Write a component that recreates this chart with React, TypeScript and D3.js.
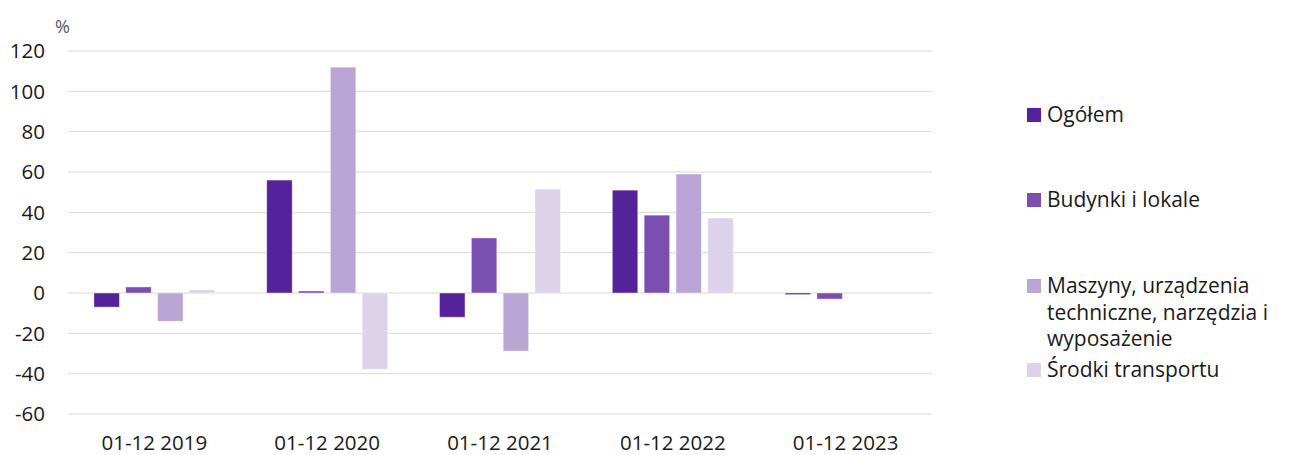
import React from "react";
import * as d3 from "d3";

const categories = ["01-12 2019", "01-12 2020", "01-12 2021", "01-12 2022", "01-12 2023"];
const seriesNames = ["Ogółem", "Budynki i lokale", "Maszyny, urządzenia techniczne, narzędzia i wyposażenie", "Środki transportu"];
const ogolem: (number | null)[] = [-7, 56, -12, 51, -0.8];
const budynki: (number | null)[] = [3, 1, 27.3, 38.6, -3];
const maszyny: (number | null)[] = [-14, 112, -28.8, 59, null];
const srodki: (number | null)[] = [1.5, -37.8, 51.5, 37.2, null];
const yTicks = [-60, -40, -20, 0, 20, 40, 60, 80, 100, 120];
const colors = ["#54229a", "#7a4fb0", "#b9a6d5", "#dcd3ea"];
const legendLines = [["Ogółem"], ["Budynki i lokale"], ["Maszyny, urządzenia", "techniczne, narzędzia i", "wyposażenie"], ["Środki transportu"]];

const W = 1295, H = 455;
const FONT = "'Open Sans', sans-serif";

export default function App() {
  const series = [ogolem, budynki, maszyny, srodki];
  const x = d3.scaleBand<string>().domain(categories).range([68, 932]).paddingInner(0.3).paddingOuter(0.15);
  const x1 = d3.scaleBand<number>().domain([0, 1, 2, 3]).range([0, x.bandwidth()]).paddingInner(0.2);
  const y = d3.scaleLinear().domain([-60, 120]).range([414, 51]);
  const legendY = [115, 200, 286, 370];
  return (
    <svg width={W} height={H} style={{ position: "absolute", left: 0, top: 0, background: "#fff" }} fontFamily={FONT}>
      {yTicks.map((t) => (
        <g key={t}>
          <line x1={68} x2={932} y1={y(t)} y2={y(t)} stroke="#d9d9d9" strokeWidth={1} />
          <text x={45} y={y(t)} dy="0.35em" textAnchor="end" fontSize={20.5} fill="#1a1a1a">{t}</text>
        </g>
      ))}
      <text x={55} y={33} fontSize={18} fill="#595959">%</text>
      {categories.map((c, i) => (
        <g key={c}>
          {series.map((s, j) => {
            const v = s[i];
            if (v === null) return null;
            const x0 = (x(c) as number) + (x1(j) as number);
            const top = y(Math.max(0, v));
            const bot = y(Math.min(0, v));
            return <rect key={j} x={x0} y={top} width={x1.bandwidth()} height={Math.max(bot - top, 0.8)} fill={colors[j]} stroke="#ffffff" strokeOpacity={0.5} strokeWidth={0.8} />;
          })}
          <text x={(x(c) as number) + x.bandwidth() / 2} y={443} dy="0.35em" textAnchor="middle" fontSize={20.5} fill="#1a1a1a">{c}</text>
        </g>
      ))}
      {legendLines.map((lines, i) => (
        <g key={i}>
          <rect x={1027} y={legendY[i] - 7} width={14} height={14} fill={colors[i]} />
          {lines.map((l, k) => (
            <text key={k} x={1047} y={legendY[i] + k * 26.5} dy="0.35em" fontSize={21} fill="#1a1a1a">{l}</text>
          ))}
        </g>
      ))}
    </svg>
  );
}
